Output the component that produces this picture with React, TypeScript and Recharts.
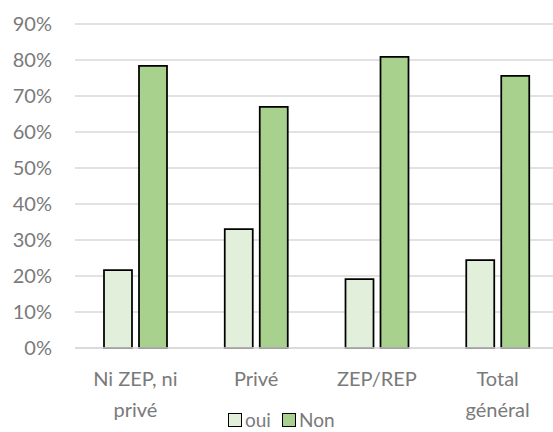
import { BarChart, Bar, XAxis, YAxis, CartesianGrid } from 'recharts'

const categories = ['Ni ZEP, ni privé', 'Privé', 'ZEP/REP', 'Total général']
const ouiValues = [0.216, 0.33, 0.191, 0.244]
const nonValues = [0.784, 0.67, 0.809, 0.756]
const yTicks = [0, 0.1, 0.2, 0.3, 0.4, 0.5, 0.6, 0.7, 0.8, 0.9]

const data = categories.map((name, i) => ({ name, oui: ouiValues[i], Non: nonValues[i] }))

const TEXT = '#7a7a7a'
const FONT = 'Lato, "Open Sans", sans-serif'
const OUI_FILL = '#e2efda'
const NON_FILL = '#a9d18e'

// Excel wraps long category names on two lines
function wrap(label: string, max = 10) {
  const lines: string[] = []
  let cur = ''
  for (const w of label.split(' ')) {
    const next = cur ? cur + ' ' + w : w
    if (next.length > max && cur) {
      lines.push(cur)
      cur = w
    } else {
      cur = next
    }
  }
  if (cur) lines.push(cur)
  return lines
}

function CategoryTick({ x, y, payload }: any) {
  const lines = wrap(payload.value)
  return (
    <text x={x} y={y} textAnchor="middle" fill={TEXT} fontSize={20} fontFamily={FONT}>
      {lines.map((l, i) => (
        <tspan key={i} x={x} dy={i === 0 ? 30 : 31}>
          {l}
        </tspan>
      ))}
    </text>
  )
}

function LegendItem({ color, label }: { color: string; label: string }) {
  return (
    <span style={{ display: 'inline-flex', alignItems: 'center', marginRight: 11 }}>
      <span
        style={{
          width: 12,
          height: 12,
          background: color,
          border: '1.5px solid #000',
          marginRight: 3,
          display: 'inline-block',
        }}
      />
      <span>{label}</span>
    </span>
  )
}

export default function App() {
  return (
    <div
      style={{
        position: 'fixed',
        left: 0,
        top: 0,
        width: 553,
        height: 432,
        overflow: 'hidden',
        background: '#fff',
      }}
    >
      <BarChart
        width={560}
        height={432}
        data={data}
        margin={{ top: 24, right: 2, left: 15, bottom: 24 }}
        barSize={28}
        barGap={7}
      >
        <CartesianGrid vertical={false} stroke="#d9d9d9" strokeWidth={1.5} />
        <XAxis
          dataKey="name"
          height={60}
          axisLine={{ stroke: '#d9d9d9', strokeWidth: 1.5 }}
          tickLine={false}
          tick={<CategoryTick />}
          interval={0}
        />
        <YAxis
          width={60}
          domain={[0, 0.9]}
          ticks={yTicks}
          tickFormatter={(v) => `${Math.round(v * 100)}%`}
          axisLine={false}
          tickLine={false}
          tickMargin={17}
          tick={{ fill: TEXT, fontSize: 20, fontFamily: FONT }}
        />
        <Bar dataKey="oui" fill={OUI_FILL} stroke="#000" strokeWidth={1.75} isAnimationActive={false} />
        <Bar dataKey="Non" fill={NON_FILL} stroke="#000" strokeWidth={1.75} isAnimationActive={false} />
      </BarChart>
      <div
        style={{
          position: 'absolute',
          left: 228,
          top: 410,
          color: TEXT,
          fontSize: 19,
          fontFamily: FONT,
          lineHeight: '20px',
          whiteSpace: 'nowrap',
        }}
      >
        <LegendItem color={OUI_FILL} label="oui" />
        <LegendItem color={NON_FILL} label="Non" />
      </div>
    </div>
  )
}
